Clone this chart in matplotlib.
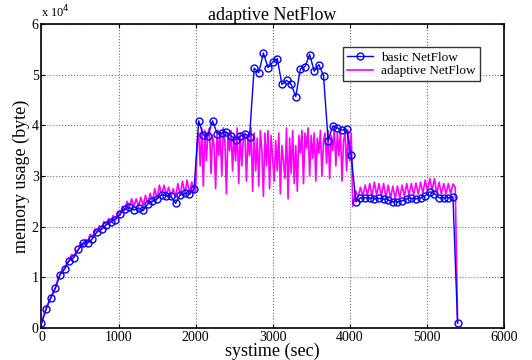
import numpy as np
import matplotlib
matplotlib.use('Agg')
import matplotlib.pyplot as plt
from matplotlib.ticker import FuncFormatter

# values, in units of 10^4 byte
# basic NetFlow: one sample every 60 s from 0 to 5400 s
basic_t = np.arange(0, 5401, 60)
basic = [0.09, 0.37, 0.59, 0.78, 1.05, 1.16, 1.33, 1.39, 1.55, 1.68,
         1.68, 1.76, 1.90, 1.95, 2.04, 2.10, 2.14, 2.25, 2.35, 2.38,
         2.33, 2.37, 2.32, 2.45, 2.50, 2.55, 2.63, 2.61, 2.60, 2.46,
         2.63, 2.66, 2.64, 2.74,
         4.09, 3.81, 3.80, 4.09, 3.84, 3.85, 3.87, 3.79, 3.72, 3.79,
         3.83, 3.78, 5.13, 5.04, 5.43, 5.14, 5.25, 5.32, 4.81, 4.89,
         4.81, 4.57, 5.12, 5.16, 5.40, 5.07, 5.20, 4.98, 3.70, 3.99,
         3.95, 3.91, 3.92, 3.41,
         2.49, 2.57, 2.57, 2.57, 2.55, 2.56, 2.55, 2.53, 2.49, 2.49,
         2.51, 2.55, 2.56, 2.55, 2.57, 2.61, 2.69, 2.65, 2.57, 2.57,
         2.57, 2.59, 0.09]

# adaptive NetFlow, three pieces with their own sampling
adapt1 = [0.09, 0.25, 0.40, 0.50, 0.60, 0.70, 0.80, 0.95, 1.06, 1.12,
          1.18, 1.28, 1.34, 1.45, 1.40, 1.52, 1.55, 1.68, 1.62, 1.75,
          1.70, 1.85, 1.78, 1.95, 1.88, 2.02, 1.96, 2.10, 2.03, 2.16,
          2.08, 2.22, 2.14, 2.30, 2.22, 2.40, 2.32, 2.50, 2.38, 2.55,
          2.40, 2.55, 2.40, 2.58, 2.42, 2.62, 2.45, 2.66, 2.50, 2.75,
          2.55, 2.82, 2.62, 2.82, 2.62, 2.78, 2.60, 2.75, 2.58, 2.85,
          2.62, 2.90, 2.65, 2.92, 2.65, 2.88, 2.68]
adapt2 = [2.70, 3.65, 3.85, 3.20, 3.95, 2.80, 3.90, 3.30, 3.85, 3.95,
          3.05, 3.80, 3.60, 2.75, 3.90, 3.40, 3.85, 3.00, 3.95, 3.70,
          2.65, 3.85, 3.50, 3.90, 3.10, 3.80, 3.30, 3.95, 2.85, 3.85,
          3.20, 3.75, 3.85, 2.90, 3.80, 3.40, 3.95, 2.70, 3.85, 3.10,
          3.75, 2.80, 3.90, 3.50, 2.60, 3.85, 3.20, 3.90, 2.75, 3.80,
          3.35, 2.90, 3.70, 3.10, 3.85, 2.65, 3.60, 3.30, 2.95, 3.95,
          2.55, 3.75, 3.05, 3.90, 2.85, 3.60, 2.70, 3.80, 3.45, 3.90,
          2.85, 3.85, 3.55, 3.95, 3.00, 3.80, 3.35, 3.85, 2.90, 3.75,
          3.45, 3.90, 3.00, 3.70, 3.85, 3.25, 3.90, 2.95, 3.80, 3.50,
          3.95, 3.20, 3.85, 3.40, 3.90, 2.90, 3.70, 3.85, 3.10, 3.90,
          3.30, 3.85, 2.40]
adapt3 = [2.70, 2.58, 2.78, 2.60, 2.82, 2.62, 2.85, 2.60, 2.88, 2.62,
          2.85, 2.60, 2.85, 2.58, 2.82, 2.56, 2.80, 2.55, 2.80, 2.56,
          2.82, 2.60, 2.85, 2.62, 2.85, 2.63, 2.86, 2.64, 2.88, 2.66,
          2.92, 2.70, 2.95, 2.72, 2.95, 2.65, 2.88, 2.64, 2.85, 2.65,
          2.85, 2.65, 2.84, 2.78, 0.10]

adapt_t = np.concatenate([0 + 30 * np.arange(len(adapt1)),
                          2000 + 20 * np.arange(len(adapt2)),
                          4080 + 30 * np.arange(len(adapt3))])
adapt = np.array(adapt1 + adapt2 + adapt3) * 1e4
basic = np.array(basic) * 1e4

plt.rcParams['font.family'] = ['Liberation Serif', 'DejaVu Serif']

fig = plt.figure(figsize=(5.32, 3.60), dpi=100)
ax = fig.add_axes([0.078, 0.089, 0.869, 0.844])

ax.plot(basic_t, basic, '-o', color='blue', lw=1.0, ms=5,
        mfc='none', mec='blue', mew=1.0, label='basic NetFlow', zorder=3)
ax.plot(adapt_t, adapt, '-', color='magenta', lw=1.2,
        label='adaptive NetFlow', zorder=2)

ax.set_xlim(0, 6000)
ax.set_ylim(0, 6e4)
ax.set_xticks(np.arange(0, 6001, 1000))
ax.set_yticks(np.arange(0, 6.01e4, 1e4))
ax.yaxis.set_major_formatter(FuncFormatter(lambda v, p: '%d' % round(v / 1e4)))
ax.text(0.0, 1.012, r'x 10$^4$', transform=ax.transAxes, fontsize=9,
        ha='left', va='bottom')

ax.grid(True, linestyle=':', color='0.45', lw=0.8)
ax.tick_params(direction='in', top=True, right=True, length=3,
               labelsize=10, pad=2)
for s in ax.spines.values():
    s.set_linewidth(1.2)

ax.set_title('adaptive NetFlow', fontsize=13, pad=3)
ax.set_xlabel('systime (sec)', fontsize=13, labelpad=-1)
ax.set_ylabel('memory usage (byte)', fontsize=13, labelpad=1)

leg = ax.legend(loc='upper right', bbox_to_anchor=(0.962, 0.945),
                fontsize=9.5, frameon=True, fancybox=False,
                borderpad=0.3, labelspacing=0.1, handlelength=2.0,
                handletextpad=0.6)
leg.get_frame().set_edgecolor('black')
leg.get_frame().set_linewidth(1.0)

fig.savefig('out.png', dpi=100)
